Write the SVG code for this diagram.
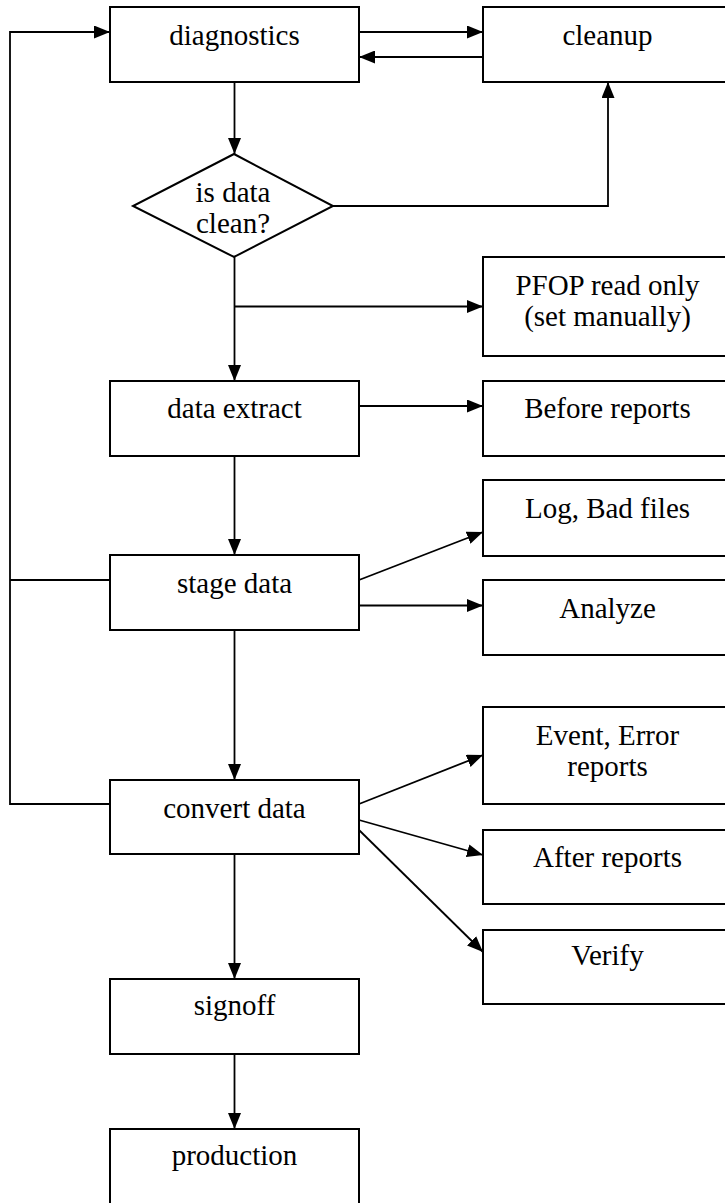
<svg xmlns="http://www.w3.org/2000/svg" width="725" height="1203" viewBox="0 0 725 1203">
<style>
.box{fill:#fff;stroke:#000;stroke-width:2}
.t{font-family:"Liberation Serif","Times New Roman",serif;font-size:29px;fill:#000;text-anchor:middle}
.c{fill:none;stroke:#000;stroke-width:1.8}
.a{marker-end:url(#ah)}
</style>
<defs>
<marker id="ah" markerUnits="userSpaceOnUse" markerWidth="16" markerHeight="13" refX="16" refY="6.5" orient="auto">
<path d="M0,0 L16,6.5 L0,13 z" fill="#000"/>
</marker>
</defs>
<rect width="725" height="1203" fill="#fff"/>
<g id="connectors">
<path class="c a" d="M110,804 H10 V32 H110"/>
<path class="c" d="M110,580 H10"/>
<path class="c a" d="M359,32 H483"/>
<path class="c a" d="M483,57 H359"/>
<path class="c a" d="M234.5,82 V154"/>
<path class="c a" d="M333,206 H608 V82"/>
<path class="c a" d="M234.5,257 V381"/>
<path class="c a" d="M234.5,306.5 H483"/>
<path class="c a" d="M359,406 H483"/>
<path class="c a" d="M234.5,456 V555"/>
<path class="c a" d="M359,580 L483,532"/>
<path class="c a" d="M359,605.5 H483"/>
<path class="c a" d="M234.5,630 V780"/>
<path class="c a" d="M359,804 L483,755"/>
<path class="c a" d="M359,820 L483,855"/>
<path class="c a" d="M359,830 L483,952"/>
<path class="c a" d="M234.5,854 V979"/>
<path class="c a" d="M234.5,1054 V1129"/>
</g>
<g id="diagnostics"><rect class="box" x="110" y="7" width="249" height="75"/><text class="t" x="234.5" y="45">diagnostics</text></g>
<g id="cleanup"><rect class="box" x="483" y="7" width="249" height="75"/><text class="t" x="607.5" y="45">cleanup</text></g>
<g id="isclean"><path class="box" d="M234,154 L333,206 L234,257 L133,206 Z"/><text class="t" x="233" y="201.5">is data</text><text class="t" x="233" y="233">clean?</text></g>
<g id="pfop"><rect class="box" x="483" y="257" width="249" height="99"/><text class="t" x="607.5" y="295">PFOP read only</text><text class="t" x="607.5" y="326">(set manually)</text></g>
<g id="extract"><rect class="box" x="110" y="381" width="249" height="75"/><text class="t" x="234.5" y="418">data extract</text></g>
<g id="before"><rect class="box" x="483" y="381" width="249" height="75"/><text class="t" x="607.5" y="418">Before reports</text></g>
<g id="logbad"><rect class="box" x="483" y="480" width="249" height="76"/><text class="t" x="607.5" y="518">Log, Bad files</text></g>
<g id="stage"><rect class="box" x="110" y="555" width="249" height="75"/><text class="t" x="234.5" y="593">stage data</text></g>
<g id="analyze"><rect class="box" x="483" y="580" width="249" height="75"/><text class="t" x="607.5" y="618">Analyze</text></g>
<g id="event"><rect class="box" x="483" y="707" width="249" height="97"/><text class="t" x="607.5" y="745">Event, Error</text><text class="t" x="607.5" y="776">reports</text></g>
<g id="convert"><rect class="box" x="110" y="780" width="249" height="74"/><text class="t" x="234.5" y="818">convert data</text></g>
<g id="after"><rect class="box" x="483" y="830" width="249" height="74"/><text class="t" x="607.5" y="867">After reports</text></g>
<g id="verify"><rect class="box" x="483" y="930" width="249" height="74"/><text class="t" x="607.5" y="965">Verify</text></g>
<g id="signoff"><rect class="box" x="110" y="979" width="249" height="75"/><text class="t" x="234.5" y="1015">signoff</text></g>
<g id="production"><rect class="box" x="110" y="1129" width="249" height="75"/><text class="t" x="234.5" y="1165">production</text></g>
</svg>
